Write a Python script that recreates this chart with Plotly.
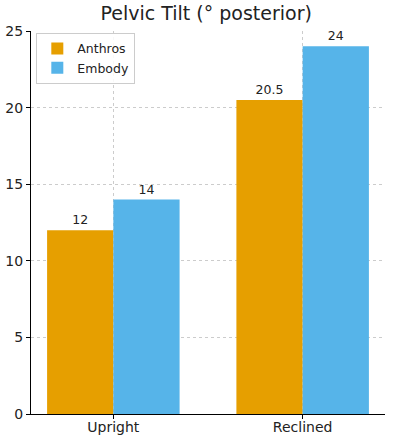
import plotly.graph_objects as go

categories = ["Upright", "Reclined"]
anthros = [12, 20.5]
embody = [14, 24]
anthros_labels = ["12", "20.5"]
embody_labels = ["14", "24"]
y_ticks = [0, 5, 10, 15, 20, 25]

font = "DejaVu Sans, Liberation Sans, sans-serif"

fig = go.Figure()
fig.add_trace(go.Bar(
    x=categories, y=anthros, name="Anthros", marker_color="#E69F00",
    marker_line_width=0, text=anthros_labels, textposition="outside",
    textfont=dict(size=12.5, color="#222"), cliponaxis=False,
))
fig.add_trace(go.Bar(
    x=categories, y=embody, name="Embody", marker_color="#56B4E9",
    marker_line_width=0, text=embody_labels, textposition="outside",
    textfont=dict(size=12.5, color="#222"), cliponaxis=False,
))

fig.update_layout(
    width=410, height=442,
    margin=dict(l=31, r=25, t=31, b=28),
    paper_bgcolor="white", plot_bgcolor="white",
    font=dict(family=font, size=14, color="#222"),
    title=dict(text="Pelvic Tilt (° posterior)", x=0.503, xanchor="center",
               y=0.985, yanchor="top", font=dict(size=19, color="#222")),
    barmode="group", bargap=0.3, bargroupgap=0,
    showlegend=True,
    legend=dict(x=0.015, y=0.995, xanchor="left", yanchor="top",
                bgcolor="rgba(255,255,255,0.85)", bordercolor="#ccc",
                borderwidth=1, font=dict(size=12.5), itemwidth=30,
                tracegroupgap=2),
)
fig.update_xaxes(
    type="category", range=[-0.435, 1.435], automargin=False,
    showline=True, linecolor="black", linewidth=1,
    ticks="outside", ticklen=4, tickcolor="black",
    showgrid=True, gridcolor="#cccccc", griddash="dot", gridwidth=1,
    tickfont=dict(size=14), mirror=False, zeroline=False,
    ticklabelstandoff=-4,
)
fig.update_yaxes(
    range=[0, 25], tickvals=y_ticks, automargin=False,
    showline=True, linecolor="black", linewidth=1,
    ticks="outside", ticklen=4, tickcolor="black",
    showgrid=True, gridcolor="#cccccc", griddash="dot", gridwidth=1,
    tickfont=dict(size=14), zeroline=False,
)

fig.write_html(
    "out.html",
    config={"displayModeBar": False},
    post_script="document.body.style.margin='0';document.body.style.overflow='hidden';",
)
